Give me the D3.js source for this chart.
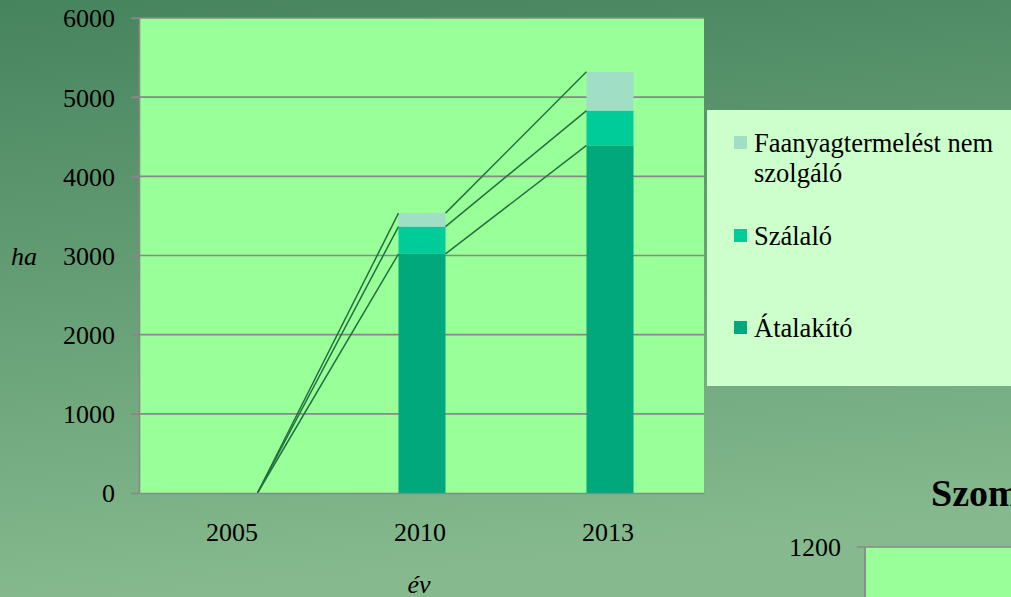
<html>
<head>
<script src="https://d3js.org/d3.v7.min.js"></script>
<style>
  body { margin: 0; overflow: hidden; }
  svg text { font-family: "Liberation Serif", "Times New Roman", serif; fill: #000; }
</style>
</head>
<body>
<svg width="1011" height="597"></svg>
<script>
// chart data (ha)
var years = ["2005", "2010", "2013"];
var atalakito = [0, 3020, 4390];
var szalalo = [0, 345, 440];
var faanyag = [0, 170, 490];
var seriesNames = ["Átalakító", "Szálaló", "Faanyagtermelést nem szolgáló"];
var yTicks = [0, 1000, 2000, 3000, 4000, 5000, 6000];
// fragment of the next chart on the slide
var nextTitle = "Szom";
var nextTicks = [1200];

var colors = ["#00a87b", "#00cc99", "#a0dec6"];

var svg = d3.select("svg");

// slide background
var defs = svg.append("defs");
var grad = defs.append("linearGradient")
  .attr("id", "bg").attr("x1", "0").attr("y1", "0").attr("x2", "0.15").attr("y2", "1");
grad.append("stop").attr("offset", "0").attr("stop-color", "#46845e");
grad.append("stop").attr("offset", "1").attr("stop-color", "#86ba8e");
svg.append("rect").attr("width", 1011).attr("height", 597).attr("fill", "url(#bg)");

var plotL = 140, plotR = 704, plotT = 18, plotB = 493;

var x = d3.scaleBand().domain(years).range([plotL, plotR]);
var y = d3.scaleLinear().domain([0, 6000]).range([plotB, plotT]);
var barW = x.bandwidth() * 0.25;

// plot area
svg.append("rect")
  .attr("x", plotL).attr("y", plotT)
  .attr("width", plotR - plotL).attr("height", plotB - plotT)
  .attr("fill", "#99ff99");

// gridlines
svg.append("g").selectAll("line")
  .data(yTicks.filter(d => d > 0))
  .enter().append("line")
    .attr("x1", plotL - 8).attr("x2", plotR)
    .attr("y1", d => y(d)).attr("y2", d => y(d))
    .attr("stroke", "#888").attr("stroke-width", 1.6);

// stacked data
var table = years.map((yr, i) => ({ year: yr, a: atalakito[i], s: szalalo[i], f: faanyag[i] }));
var stack = d3.stack().keys(["a", "s", "f"])(table);

var layers = svg.append("g").selectAll("g")
  .data(stack).enter().append("g")
    .attr("fill", (d, i) => colors[i]);
layers.selectAll("rect")
  .data(d => d).enter().append("rect")
    .attr("x", d => x(d.data.year) + x.bandwidth() / 2 - barW / 2)
    .attr("y", d => y(d[1]))
    .attr("width", barW)
    .attr("height", d => y(d[0]) - y(d[1]));

// series lines between the tops of each segment
var segs = [];
stack.forEach(layer => {
  for (var i = 0; i < layer.length - 1; i++) {
    segs.push({
      x1: x(layer[i].data.year) + x.bandwidth() / 2 + barW / 2,
      y1: y(layer[i][1]),
      x2: x(layer[i + 1].data.year) + x.bandwidth() / 2 - barW / 2,
      y2: y(layer[i + 1][1])
    });
  }
});
svg.append("g").selectAll("line")
  .data(segs).enter().append("line")
    .attr("x1", d => d.x1).attr("y1", d => d.y1)
    .attr("x2", d => d.x2).attr("y2", d => d.y2)
    .attr("stroke", "#22703f").attr("stroke-width", 1.5);

// y axis
var yAxis = svg.append("g")
  .attr("transform", "translate(" + (plotL - 1) + ",0)")
  .call(d3.axisLeft(y).tickValues(yTicks).tickSize(8).tickPadding(16).tickSizeOuter(0)
    .tickFormat(d3.format("d")));
yAxis.selectAll("path, line").attr("stroke", "#888").attr("stroke-width", 1.6);
yAxis.selectAll("text").style("font-size", "26px").attr("dy", "0.34em")
  .style("font-family", "'Liberation Serif', serif");

// x axis
var xAxis = svg.append("g")
  .attr("transform", "translate(0," + plotB + ")")
  .call(d3.axisBottom(x).tickSize(0).tickPadding(30).tickSizeOuter(0));
xAxis.select("path").attr("stroke", "#888").attr("stroke-width", 1.6);
xAxis.selectAll("text").style("font-size", "26px").attr("dy", "0.71em")
  .attr("dx", "-2")
  .style("font-family", "'Liberation Serif', serif");

// axis titles
svg.append("text").attr("x", 24).attr("y", 265)
  .attr("text-anchor", "middle").style("font-size", "26px").style("font-style", "italic")
  .text("ha");
svg.append("text").attr("x", 419).attr("y", 593)
  .attr("text-anchor", "middle").style("font-size", "26px").style("font-style", "italic")
  .text("év");

// legend
svg.append("rect").attr("x", 707).attr("y", 110).attr("width", 310).attr("height", 276)
  .attr("fill", "#ccffcc");
var legendRows = [
  { lines: ["Faanyagtermelést nem", "szolgáló"], y: 152, c: 2 },
  { lines: ["Szálaló"], y: 245, c: 1 },
  { lines: ["Átalakító"], y: 337, c: 0 }
];
var leg = svg.append("g").selectAll("g").data(legendRows).enter().append("g");
leg.append("rect")
  .attr("x", 734).attr("y", d => d.y - 16)
  .attr("width", 13).attr("height", 13)
  .attr("fill", d => colors[d.c]);
leg.append("text")
  .attr("x", 754).attr("y", d => d.y)
  .style("font-size", "26.5px")
  .selectAll("tspan").data(d => d.lines).enter().append("tspan")
    .attr("x", 754).attr("dy", (d, i) => i ? 30 : 0)
    .text(d => d);

// start of the next chart, cut off by the slide edge
svg.append("text").attr("x", 931).attr("y", 506)
  .style("font-size", "38px").style("font-weight", "bold")
  .text(nextTitle);
svg.append("rect").attr("x", 866).attr("y", 547).attr("width", 150).attr("height", 60)
  .attr("fill", "#99ff99");
svg.append("line").attr("x1", 857).attr("x2", 1011).attr("y1", 547).attr("y2", 547)
  .attr("stroke", "#888").attr("stroke-width", 1.6);
svg.append("line").attr("x1", 865).attr("x2", 865).attr("y1", 547).attr("y2", 597)
  .attr("stroke", "#888").attr("stroke-width", 1.6);
svg.append("g").selectAll("text").data(nextTicks).enter().append("text")
  .attr("x", 841).attr("y", 547).attr("dy", "0.34em")
  .attr("text-anchor", "end").style("font-size", "26px")
  .text(d => d);
</script>
</body>
</html>
